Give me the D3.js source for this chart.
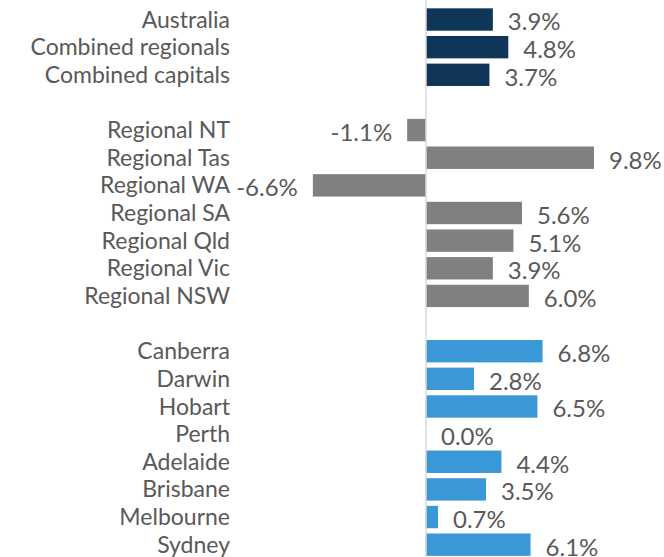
<!DOCTYPE html>
<html>
<head>
<meta charset="utf-8">
<script src="https://cdn.jsdelivr.net/npm/d3@7"></script>
<style>
  body { margin: 0; background: #fff; }
  text { font-family: Lato, "Open Sans", sans-serif; fill: #595959; }
</style>
</head>
<body>
<svg width="664" height="557"></svg>
<script>
// rows top to bottom, "" = blank spacer row
var categories = ['Australia', 'Combined regionals', 'Combined capitals', '',
  'Regional NT', 'Regional Tas', 'Regional WA', 'Regional SA', 'Regional Qld', 'Regional Vic', 'Regional NSW', '',
  'Canberra', 'Darwin', 'Hobart', 'Perth', 'Adelaide', 'Brisbane', 'Melbourne', 'Sydney']
var values = [3.9, 4.8, 3.7, null,
  -1.1, 9.8, -6.6, 5.6, 5.1, 3.9, 6.0, null,
  6.8, 2.8, 6.5, 0.0, 4.4, 3.5, 0.7, 6.1]
var groups = ['total', 'total', 'total', null,
  'regional', 'regional', 'regional', 'regional', 'regional', 'regional', 'regional', null,
  'capital', 'capital', 'capital', 'capital', 'capital', 'capital', 'capital', 'capital']
var colours = {total: '#0f3659', regional: '#808080', capital: '#3a98d6'}

var rows = categories.map(function(c, i){
  return {key: i, name: c, value: values[i], group: groups[i]}
})

var svg = d3.select('svg')

var x = d3.scaleLinear().domain([0, 9.8]).range([426, 594])
var y = d3.scaleBand()
  .domain(rows.map(function(d){ return d.key }))
  .range([5.7, 558.5])
  .paddingInner(0.19)
  .paddingOuter(0.095)

var bars = rows.filter(function(d){ return d.value !== null })

svg.append('g').selectAll('rect')
  .data(bars)
  .enter()
  .append('rect')
  .attr('x', function(d){ return Math.min(x(0), x(d.value)) })
  .attr('width', function(d){ return Math.abs(x(d.value) - x(0)) })
  .attr('y', function(d){ return y(d.key) })
  .attr('height', y.bandwidth())
  .attr('fill', function(d){ return colours[d.group] })

// zero line
svg.append('line')
  .attr('x1', x(0)).attr('x2', x(0))
  .attr('y1', 0).attr('y2', 557)
  .attr('stroke', '#d9d9d9')
  .attr('stroke-width', 1.5)

// category labels
svg.append('g').selectAll('text')
  .data(bars)
  .enter()
  .append('text')
  .attr('x', 230)
  .attr('y', function(d){ return y(d.key) + y.bandwidth() / 2 })
  .attr('dy', '0.35em')
  .attr('text-anchor', 'end')
  .style('font-size', '23px')
  .text(function(d){ return d.name })

// value labels
svg.append('g').selectAll('text')
  .data(bars)
  .enter()
  .append('text')
  .attr('x', function(d){ return d.value < 0 ? x(d.value) - 15 : x(d.value) + 15 })
  .attr('y', function(d){ return y(d.key) + y.bandwidth() / 2 + 2.5 })
  .attr('dy', '0.35em')
  .attr('text-anchor', function(d){ return d.value < 0 ? 'end' : 'start' })
  .style('font-size', '24px')
  .text(function(d){ return d.value.toFixed(1) + '%' })
</script>
</body>
</html>
